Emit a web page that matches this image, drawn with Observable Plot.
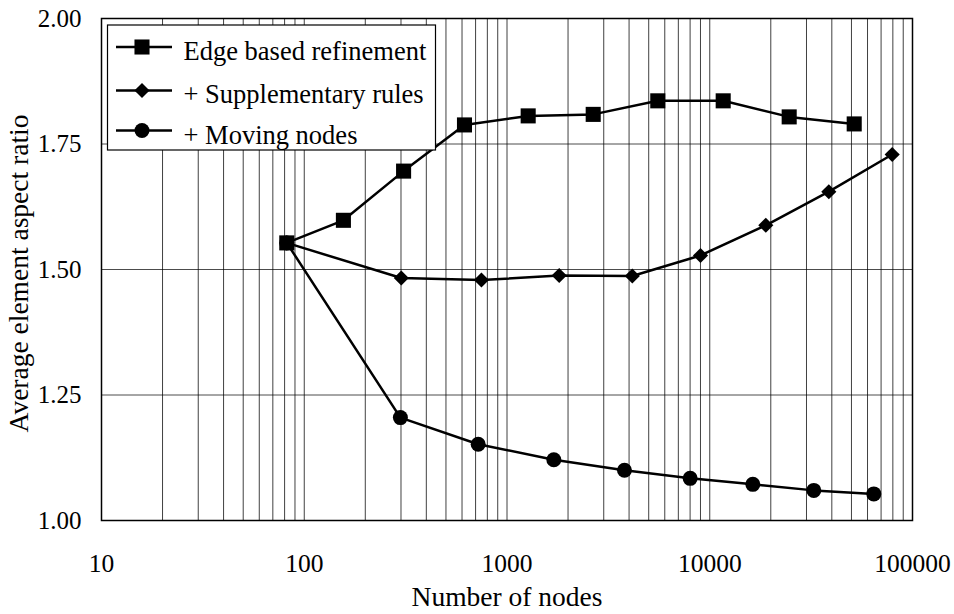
<!DOCTYPE html>
<html>
<head>
<meta charset="utf-8">
<script src="https://cdn.jsdelivr.net/npm/d3@7"></script>
<script src="https://cdn.jsdelivr.net/npm/@observablehq/plot@0.6"></script>
<style>
  html, body { margin: 0; padding: 0; background: #fff; }
</style>
</head>
<body>
<div id="chart"></div>
<script>
// Series data
const seriesNames = ["Edge based refinement", "+ Supplementary rules", "+ Moving nodes"];
const nodesEdge = [82, 156, 309, 617, 1272, 2662, 5543, 11650, 24650, 51580];
const ratioEdge = [1.553, 1.598, 1.696, 1.788, 1.806, 1.809, 1.836, 1.836, 1.804, 1.790];
const nodesSupp = [82, 301, 748, 1809, 4150, 9004, 18900, 38660, 79400];
const ratioSupp = [1.553, 1.483, 1.479, 1.488, 1.487, 1.528, 1.588, 1.655, 1.729];
const nodesMove = [82, 298, 721, 1702, 3797, 8006, 16310, 32600, 64440];
const ratioMove = [1.553, 1.205, 1.152, 1.121, 1.100, 1.084, 1.072, 1.060, 1.053];

// Tick labels
const xTicks = [10, 100, 1000, 10000, 100000];
const yTicks = [1.00, 1.25, 1.50, 1.75, 2.00];
const yGrid = [1.25, 1.50, 1.75];
const xGridMultipliers = [1, 2, 3, 4, 5, 6, 7, 8, 9];
const xGridDecades = [10, 100, 1000, 10000];
const xGrid = xGridDecades.flatMap(d => xGridMultipliers.map(m => m * d)).concat([100000]);

const toRows = (xs, ys) => xs.map((x, i) => ({x, y: ys[i]}));
const edge = toRows(nodesEdge, ratioEdge);
const supp = toRows(nodesSupp, ratioSupp);
const move = toRows(nodesMove, ratioMove);

const font = "'Liberation Serif', 'Times New Roman', serif";
const W = 954, H = 614;
const mL = 101, mR = 42, mT = 18, mB = 94;

const chart = Plot.plot({
  width: W,
  height: H,
  marginLeft: mL,
  marginRight: mR,
  marginTop: mT,
  marginBottom: mB,
  style: { fontFamily: font, fontSize: "25px", color: "#000", background: "#fff", overflow: "visible" },
  x: { type: "log", domain: [10, 100000] },
  y: { domain: [1, 2] },
  marks: [
    Plot.ruleX(xGrid, { stroke: "#000", strokeWidth: 1, strokeOpacity: 0.75 }),
    Plot.ruleY(yGrid, { stroke: "#000", strokeWidth: 1, strokeOpacity: 0.7 }),
    Plot.frame({ stroke: "#000", strokeWidth: 1.5 }),
    Plot.axisX({ ticks: xTicks, tickFormat: d => String(d), tickSize: 0, tickPadding: 33, label: null, fontSize: 25.5 }),
    Plot.axisY({ ticks: yTicks, tickFormat: d => d.toFixed(2), tickSize: 0, tickPadding: 20, label: null, fontSize: 25 }),
    Plot.text(["Number of nodes"], { frameAnchor: "bottom", lineAnchor: "bottom", dy: 85, fontSize: 27.5, fill: "#000" }),
    Plot.text(["Average element aspect ratio"], { frameAnchor: "left", textAnchor: "middle", lineAnchor: "middle", dx: -82, dy: 4, rotate: -90, fontSize: 27.5, fill: "#000" }),
    Plot.line(edge, { x: "x", y: "y", stroke: "#000", strokeWidth: 2.5 }),
    Plot.line(supp, { x: "x", y: "y", stroke: "#000", strokeWidth: 2.5 }),
    Plot.line(move, { x: "x", y: "y", stroke: "#000", strokeWidth: 2.5 }),
    Plot.dot(edge, { x: "x", y: "y", symbol: "square", r: 8.5, fill: "#000", stroke: "none" }),
    Plot.dot(supp, { x: "x", y: "y", symbol: "diamond2", r: 6.8, fill: "#000", stroke: "none" }),
    Plot.dot(move, { x: "x", y: "y", symbol: "circle", r: 7.5, fill: "#000", stroke: "none" })
  ]
});

document.getElementById("chart").appendChild(chart);

// Legend drawn into the SVG
const svg = d3.select(chart);
const lg = svg.append("g").attr("font-family", font).attr("font-size", 26.5).attr("text-anchor", "start");
lg.append("rect").attr("x", 107.5).attr("y", 25).attr("width", 328).attr("height", 125)
  .attr("fill", "#fff").attr("stroke", "#000").attr("stroke-width", 1.2);
const symTypes = [d3.symbolSquare, d3.symbolDiamond2, d3.symbolCircle];
const symSizes = [Math.PI * 8.5 * 8.5, Math.PI * 6.8 * 6.8, Math.PI * 7.5 * 7.5];
const rowY = [47, 90.5, 130.5];
const textY = [59.5, 103, 143.5];
seriesNames.forEach((name, i) => {
  const cy = rowY[i];
  lg.append("line").attr("x1", 116).attr("x2", 172).attr("y1", cy).attr("y2", cy)
    .attr("stroke", "#000").attr("stroke-width", 2.5);
  lg.append("path").attr("d", d3.symbol().type(symTypes[i]).size(symSizes[i])())
    .attr("transform", `translate(142,${cy})`).attr("fill", "#000");
  lg.append("text").attr("x", 183.5).attr("y", textY[i]).attr("fill", "#000")
    .attr("text-anchor", "start").text(name);
});
</script>
</body>
</html>
